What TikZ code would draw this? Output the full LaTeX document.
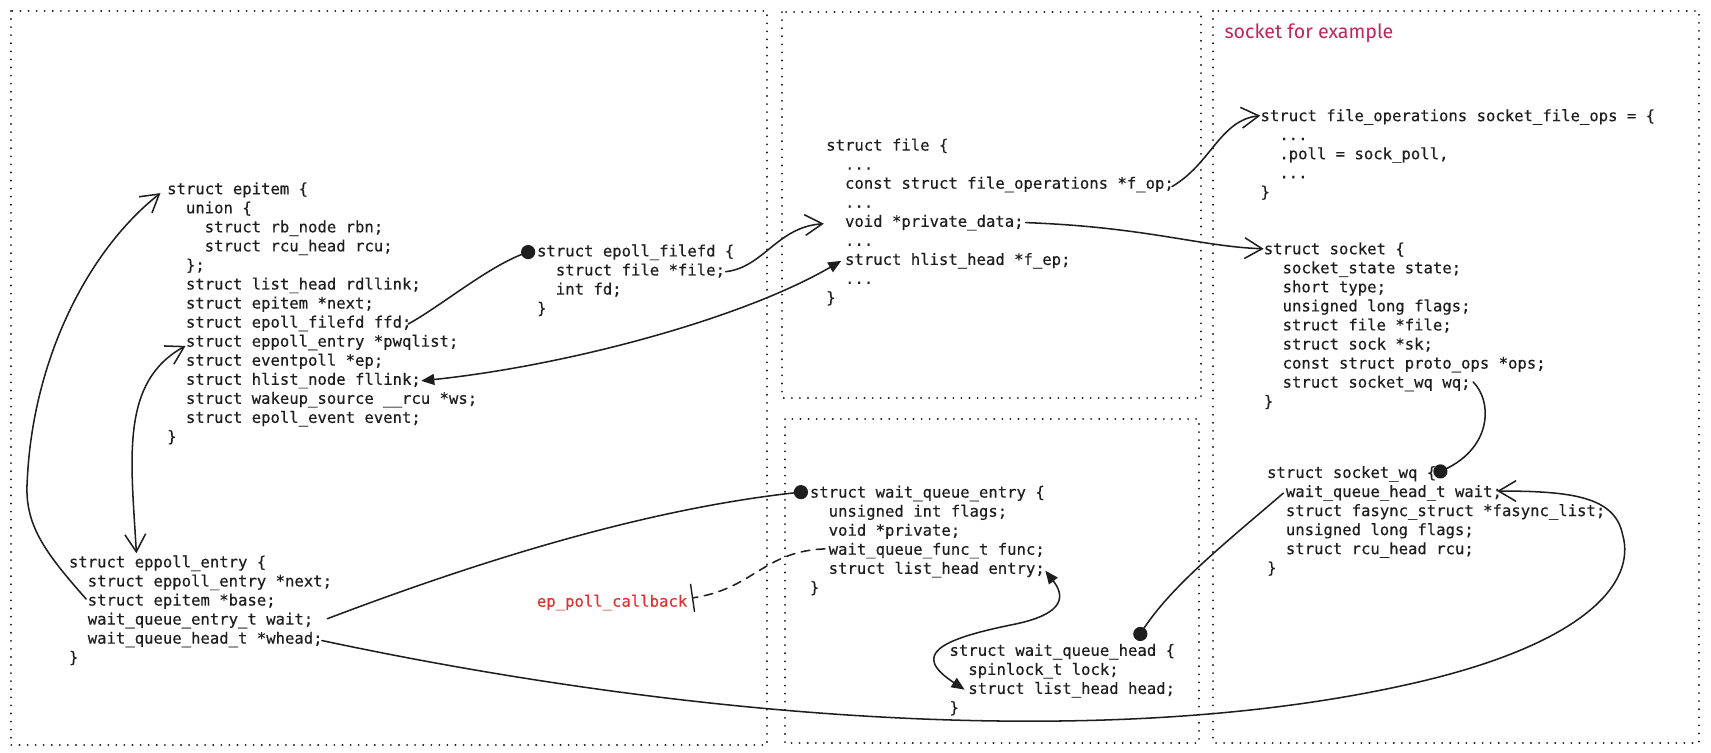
\documentclass[tikz,border=0pt]{standalone}
\usepackage{fontspec}
\setmonofont[FakeBold=0.35]{DejaVu Sans Mono}
\newfontfamily\handfont{Fira Sans}
\usetikzlibrary{arrows.meta}
\definecolor{ink}{HTML}{1E1E1E}
\definecolor{cbred}{HTML}{E03131}
\definecolor{notepink}{HTML}{C2255C}
\newcommand\codefont{\fontsize{14.3}{17.46}\selectfont\ttfamily}
\newcommand\code[1]{\begin{tabular}[t]{@{}l@{}}#1\end{tabular}}
\newcommand\Ia{\hphantom{xx}}
\newcommand\Ib{\hphantom{xxxx}}
\begin{document}
\begin{tikzpicture}[x=1pt,y=-1pt,
  frame/.style={draw=ink, line width=1.8pt, dash pattern=on 0.1pt off 7.3pt, line cap=round},
  code/.style={font=\codefont, text=ink, inner sep=0pt, anchor=base west},
  conn/.style={draw=ink, line width=1.4pt, line cap=round},
  oend/.style={-{Straight Barb[length=16pt,width=19pt,line width=1.4pt]}},
  obar/.style={{Straight Barb[length=16pt,width=19pt,line width=1.4pt]}-{Straight Barb[length=16pt,width=19pt,line width=1.4pt]}},
  tri2/.style={{Triangle[length=12pt,width=10pt]}-{Triangle[length=12pt,width=10pt]}},
  dotmark/.style={fill=ink},
  teeend/.style={-{Bar[width=26pt,line width=1.3pt]}}]
\fill[white] (0,0) rectangle (1568,690);
\useasboundingbox (0,0) rectangle (1568,690);

% frames
\draw[frame] (10,10) rectangle (703,683);
\draw[frame] (717,11) rectangle (1101,365);
\draw[frame] (719,384) rectangle (1099,681);
\draw[frame] (1112,10) rectangle (1557,681);

\node[anchor=base west, inner sep=0pt, font=\handfont\fontsize{18}{21}\selectfont, text=notepink] (note) at (1122,35) {socket for example};

% code blocks
\node[code] (epitem) at (153,178) {\code{%
struct epitem \{\\
\Ia union \{\\
\Ib struct rb\_node rbn;\\
\Ib struct rcu\_head rcu;\\
\Ia \};\\
\Ia struct list\_head rdllink;\\
\Ia struct epitem *next;\\
\Ia struct epoll\_filefd ffd;\\
\Ia struct eppoll\_entry *pwqlist;\\
\Ia struct eventpoll *ep;\\
\Ia struct hlist\_node fllink;\\
\Ia struct wakeup\_source \_\_rcu *ws;\\
\Ia struct epoll\_event event;\\
\}}};

\node[code] (filefd) at (492,235) {\code{%
struct epoll\_filefd \{\\
\Ia struct file *file;\\
\Ia int fd;\\
\}}};

\node[code] (file) at (757,138) {\code{%
struct file \{\\
\Ia ...\\
\Ia const struct file\_operations *f\_op;\\
\Ia ...\\
\Ia void *private\_data;\\
\Ia ...\\
\Ia struct hlist\_head *f\_ep;\\
\Ia ...\\
\}}};

\node[code] (fops) at (1155,111) {\code{%
struct file\_operations socket\_file\_ops = \{\\
\Ia ...\\
\Ia .poll = sock\_poll,\\
\Ia ...\\
\}}};

\node[code] (socket) at (1158,233) {\code{%
struct socket \{\\
\Ia socket\_state state;\\
\Ia short type;\\
\Ia unsigned long flags;\\
\Ia struct file *file;\\
\Ia struct sock *sk;\\
\Ia const struct proto\_ops *ops;\\
\Ia struct socket\_wq wq;\\
\}}};

\node[code] (socketwq) at (1161,438) {\code{%
struct socket\_wq \{\\
\Ia wait\_queue\_head\_t wait;\\
\Ia struct fasync\_struct *fasync\_list;\\
\Ia unsigned long flags;\\
\Ia struct rcu\_head rcu;\\
\}}};

\node[code] (wqe) at (742,456) {\code{%
struct wait\_queue\_entry \{\\
\Ia unsigned int flags;\\
\Ia void *private;\\
\Ia wait\_queue\_func\_t func;\\
\Ia struct list\_head entry;\\
\}}};

\node[code] (wqh) at (870,601) {\code{%
struct wait\_queue\_head \{\\
\Ia spinlock\_t lock;\\
\Ia struct list\_head head;\\
\}}};

\node[code] (eppoll) at (63,520) {\code{%
struct eppoll\_entry \{\\
\Ia struct eppoll\_entry *next;\\
\Ia struct epitem *base;\\
\Ia wait\_queue\_entry\_t wait;\\
\Ia wait\_queue\_head\_t *whead;\\
\}}};

\node[code, anchor=base east, text=cbred] (cb) at (630,556) {ep\_poll\_callback};

% field anchor points
\coordinate (epitemTop) at (147,177);
\coordinate (pwqlist) at (170,317);
\coordinate (ffd) at (374,297);
\coordinate (fllink) at (386,349);
\coordinate (filefdDot) at (484,231);
\coordinate (fileField) at (665,249);
\coordinate (privL) at (755,205);
\coordinate (privR) at (940,204);
\coordinate (fop) at (1074,171);
\coordinate (fep) at (771,239);
\coordinate (fopsL) at (1155,106);
\coordinate (socketL) at (1158,228);
\coordinate (wq) at (1350,350);
\coordinate (wqDot) at (1320,432);
\coordinate (wqWaitL) at (1176,452);
\coordinate (wqWaitR) at (1372,450);
\coordinate (wqeDot) at (734,451);
\coordinate (func) at (756,503);
\coordinate (entry) at (958,523);
\coordinate (head) at (884,632);
\coordinate (wqhDot) at (1045,581);
\coordinate (base) at (79,549);
\coordinate (eppTop) at (125,507);
\coordinate (wait) at (300,567);
\coordinate (whead) at (295,587);
\coordinate (cbEnd) at (634,548);

% connectors
\draw[conn,oend] (base) .. controls (40,505) and (22,480) .. (25,440) .. controls (30,330) and (80,230) .. (epitemTop);
\draw[conn,obar] (eppTop) .. controls (120,420) and (110,350) .. (pwqlist);
\draw[conn] (ffd) .. controls (405,280) and (450,242) .. (filefdDot);
\draw[conn,oend] (fileField) .. controls (700,245) and (712,208) .. (privL);
\draw[conn,tri2] (fllink) .. controls (520,335) and (680,292) .. (fep);
\draw[conn,oend] (fop) .. controls (1110,150) and (1118,110) .. (fopsL);
\draw[conn,oend] (privR) .. controls (1050,208) and (1100,226) .. (socketL);
\draw[conn] (wq) .. controls (1368,368) and (1368,412) .. (wqDot);
\draw[conn] (wait) .. controls (450,510) and (600,465) .. (wqeDot);
\draw[conn,oend] (whead) .. controls (600,652) and (1000,695) .. (1300,625) .. controls (1450,590) and (1500,535) .. (1487,490) .. controls (1480,455) and (1440,450) .. (wqWaitR);
\draw[conn,dashed,dash pattern=on 8pt off 6pt,teeend] (func) .. controls (700,505) and (690,540) .. (cbEnd);
\draw[conn,tri2] (entry) .. controls (975,545) and (978,562) .. (930,572) .. controls (860,586) and (835,600) .. (head);
\draw[conn] (wqWaitL) .. controls (1120,500) and (1070,540) .. (wqhDot);

% end dots
\fill[dotmark] (filefdDot) circle[radius=6.5];
\fill[dotmark] (wqDot) circle[radius=6.5];
\fill[dotmark] (wqeDot) circle[radius=6.5];
\fill[dotmark] (wqhDot) circle[radius=6.5];
\end{tikzpicture}
\end{document}
